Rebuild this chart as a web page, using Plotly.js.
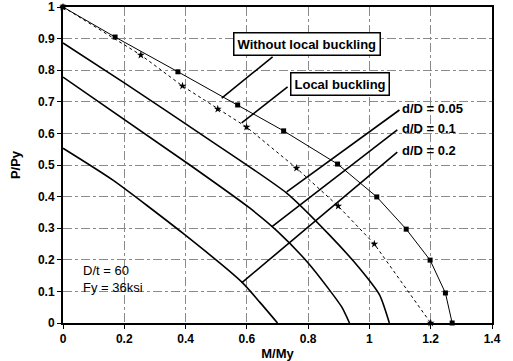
<!DOCTYPE html>
<html>
<head>
<meta charset="utf-8">
<script src="https://cdn.plot.ly/plotly-3.0.1.min.js"></script>
<style>html,body{margin:0;padding:0;background:#fff;}#chart{width:513px;height:361px;}</style>
</head>
<body>
<div id="chart"></div>
<script>
// Without local buckling (full plastic)
const wlbX = [0, 0.17, 0.375, 0.57, 0.72, 0.896, 1.024, 1.12, 1.198, 1.248, 1.27];
const wlbY = [1, 0.905, 0.795, 0.69, 0.608, 0.503, 0.399, 0.297, 0.199, 0.095, 0];
// Local buckling
const lbX = [0, 0.254, 0.39, 0.505, 0.599, 0.762, 0.898, 1.016, 1.2];
const lbY = [1, 0.848, 0.75, 0.677, 0.62, 0.49, 0.37, 0.25, 0];
// d/D = 0.05
const d05X = [0, 0.2, 0.479, 0.73, 0.87, 0.967, 1.033, 1.065];
const d05Y = [0.886, 0.76, 0.579, 0.411, 0.278, 0.174, 0.089, 0];
// d/D = 0.1
const d10X = [0, 0.414, 0.609, 0.70, 0.80, 0.87, 0.91, 0.935];
const d10Y = [0.778, 0.5, 0.364, 0.29, 0.19, 0.104, 0.05, 0];
// d/D = 0.2
const d20X = [0, 0.163, 0.39, 0.583, 0.642, 0.70];
const d20Y = [0.553, 0.452, 0.285, 0.13, 0.066, 0];

const xTicks = [0, 0.2, 0.4, 0.6, 0.8, 1, 1.2, 1.4];
const xTickText = ['0', '0.2', '0.4', '0.6', '0.8', '1', '1.2', '1.4'];
const yTicks = [0, 0.1, 0.2, 0.3, 0.4, 0.5, 0.6, 0.7, 0.8, 0.9, 1];
const yTickText = ['0', '0.1', '0.2', '0.3', '0.4', '0.5', '0.6', '0.7', '0.8', '0.9', '1'];

// labels and their leader lines [labelX, labelY, curveX, curveY]
const boxLabels = ['Without local buckling', 'Local buckling'];
const boxPos = [[0.795, 0.884], [0.904, 0.756]];
const ddLabels = ['d/D = 0.05', 'd/D = 0.1', 'd/D = 0.2'];
const ddPos = [[1.10, 0.68], [1.10, 0.617], [1.10, 0.547]];
const leaders = [
  [0.684, 0.842, 0.518, 0.712],
  [0.733, 0.747, 0.583, 0.633],
  [1.098, 0.674, 0.73, 0.415],
  [1.091, 0.611, 0.681, 0.304],
  [1.091, 0.541, 0.583, 0.127]
];

const FONT = 'Liberation Sans, Arial, sans-serif';

const traces = [
  {x: wlbX, y: wlbY, mode: 'lines+markers', line: {color: '#000', width: 1},
   marker: {symbol: 'square', size: 5, color: '#000'}, cliponaxis: false},
  {x: lbX, y: lbY, mode: 'lines+markers', line: {color: '#000', width: 1, dash: 'dot'},
   marker: {symbol: 'star', size: 6, color: '#000'}, cliponaxis: false},
  {x: d05X, y: d05Y, mode: 'lines', line: {color: '#000', width: 1.6, shape: 'spline', smoothing: 0.6}},
  {x: d10X, y: d10Y, mode: 'lines', line: {color: '#000', width: 1.6, shape: 'spline', smoothing: 0.6}},
  {x: d20X, y: d20Y, mode: 'lines', line: {color: '#000', width: 1.6, shape: 'spline', smoothing: 0.6}}
];

const annotations = [];
boxLabels.forEach((t, i) => annotations.push({
  x: boxPos[i][0], y: boxPos[i][1], xref: 'x', yref: 'y', text: '<b>' + t + '</b>',
  showarrow: false, font: {family: FONT, size: 13, color: '#000'},
  bgcolor: '#fff', bordercolor: '#000', borderwidth: 1.5, borderpad: 3
}));
ddLabels.forEach((t, i) => annotations.push({
  x: ddPos[i][0], y: ddPos[i][1], xref: 'x', yref: 'y', text: '<b>' + t + '</b>',
  showarrow: false, xanchor: 'left', font: {family: FONT, size: 13, color: '#000'}
}));
annotations.push({
  x: 0.06, y: 0.138, xref: 'x', yref: 'y', xanchor: 'left', yanchor: 'middle', align: 'left',
  text: 'D/t = 60<br>Fy = 36ksi', showarrow: false,
  font: {family: FONT, size: 13, color: '#000'}
});

const shapes = leaders.map(l => ({
  type: 'line', xref: 'x', yref: 'y', x0: l[0], y0: l[1], x1: l[2], y1: l[3],
  line: {color: '#000', width: 1.6}
}));

const axisCommon = {
  showline: true, linecolor: '#000', linewidth: 2, mirror: true,
  ticks: 'outside', ticklen: 4, tickcolor: '#000', tickwidth: 1,
  showgrid: true, gridcolor: '#8a8a8a', gridwidth: 1, griddash: 'dashdot',
  zeroline: false, tickfont: {family: FONT, size: 12, color: '#000', weight: 'bold'}
};

const layout = {
  width: 513, height: 361,
  margin: {l: 63, r: 21, t: 7, b: 38},
  paper_bgcolor: '#fff', plot_bgcolor: '#fff',
  showlegend: false,
  xaxis: Object.assign({}, axisCommon, {
    range: [0, 1.4], tickvals: xTicks, ticktext: xTickText,
    title: {text: '<b>M/My</b>', font: {family: FONT, size: 13, color: '#000'}, standoff: 4}
  }),
  yaxis: Object.assign({}, axisCommon, {
    range: [0, 1], tickvals: yTicks, ticktext: yTickText,
    title: {text: '<b>P/Py</b>', font: {family: FONT, size: 13, color: '#000'}, standoff: 14}
  }),
  annotations: annotations,
  shapes: shapes
};

Plotly.newPlot('chart', traces, layout, {staticPlot: true});
</script>
</body>
</html>
